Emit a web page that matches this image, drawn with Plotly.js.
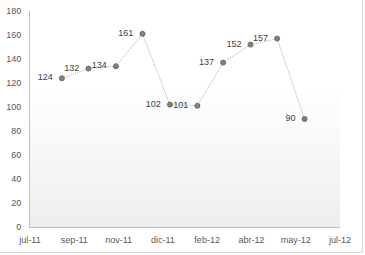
<!DOCTYPE html>
<html>
<head>
<meta charset="utf-8">
<script src="https://cdn.plot.ly/plotly-3.0.1.min.js"></script>
<style>
html,body{margin:0;padding:0;background:#fff;}
#wrap{width:362px;height:252px;border-right:1px solid #d9d9d9;border-bottom:1px solid #d9d9d9;}
#chart{width:362px;height:252px;}
</style>
</head>
<body>
<div id="wrap"><div id="chart"></div></div>
<script>
// Data (month-end dates)
const dates = ['2011-08-31','2011-09-30','2011-10-31','2011-11-30','2011-12-31','2012-01-31','2012-02-29','2012-03-31','2012-04-30','2012-05-31'];
const values = [124,132,134,161,102,101,137,152,157,90];
const tickLabels = ['jul-11','sep-11','nov-11','dic-11','feb-12','abr-12','may-12','jul-12'];
const axisStart = '2011-07-26';
const majorUnitDays = 50;
const yTicks = [0,20,40,60,80,100,120,140,160,180];

const startMs = Date.parse(axisStart + 'T00:00:00Z');
const tickVals = tickLabels.map((_, i) => new Date(startMs + i * majorUnitDays * 864e5).toISOString().slice(0,10));
const axisEnd = tickVals[tickVals.length - 1];

const grad = 'data:image/svg+xml;base64,' + btoa(
  '<svg xmlns="http://www.w3.org/2000/svg" width="100" height="100" preserveAspectRatio="none">' +
  '<defs><linearGradient id="g" x1="0" y1="0" x2="0" y2="1">' +
  '<stop offset="0" stop-color="#ffffff"/><stop offset="0.35" stop-color="#ffffff"/>' +
  '<stop offset="1" stop-color="#eeeeee"/></linearGradient></defs>' +
  '<rect width="100" height="100" fill="url(#g)"/></svg>');

const trace = {
  x: dates,
  y: values,
  type: 'scatter',
  mode: 'lines+markers+text',
  text: values.map(v => String(v) + '\u00a0\u00a0'),
  textposition: 'middle left',
  textfont: {family: 'Liberation Sans, Arial, sans-serif', size: 9, color: '#404040'},
  line: {color: '#b0b0b0', width: 1, dash: '1px,1px'},
  marker: {size: 5, color: '#808080', line: {color: '#6a6a6a', width: 1}},
  cliponaxis: false,
  hoverinfo: 'skip'
};

const layout = {
  width: 362, height: 252,
  margin: {l: 30, r: 22, t: 11, b: 25, pad: 0},
  paper_bgcolor: 'rgba(0,0,0,0)',
  plot_bgcolor: '#ffffff',
  showlegend: false,
  font: {family: 'Liberation Sans, Arial, sans-serif', size: 9, color: '#595959'},
  images: [{source: grad, xref: 'paper', yref: 'paper', x: 0, y: 1, sizex: 1, sizey: 1,
            sizing: 'stretch', xanchor: 'left', yanchor: 'top', layer: 'below'}],
  xaxis: {
    type: 'date',
    range: [axisStart, axisEnd],
    tickmode: 'array', tickvals: tickVals, ticktext: tickLabels,
    showgrid: false, zeroline: false,
    showline: true, linecolor: '#bfbfbf', linewidth: 1,
    ticks: 'outside', ticklen: 4, tickcolor: 'rgba(0,0,0,0)',
    tickfont: {size: 9, color: '#595959'}
  },
  yaxis: {
    range: [0, 180],
    tickmode: 'array', tickvals: yTicks,
    showgrid: false, zeroline: false,
    showline: true, linecolor: '#bfbfbf', linewidth: 1,
    ticks: 'outside', ticklen: 6, tickcolor: 'rgba(0,0,0,0)',
    tickfont: {size: 9, color: '#595959'}
  }
};

Plotly.newPlot('chart', [trace], layout, {staticPlot: true, displayModeBar: false});
</script>
</body>
</html>
